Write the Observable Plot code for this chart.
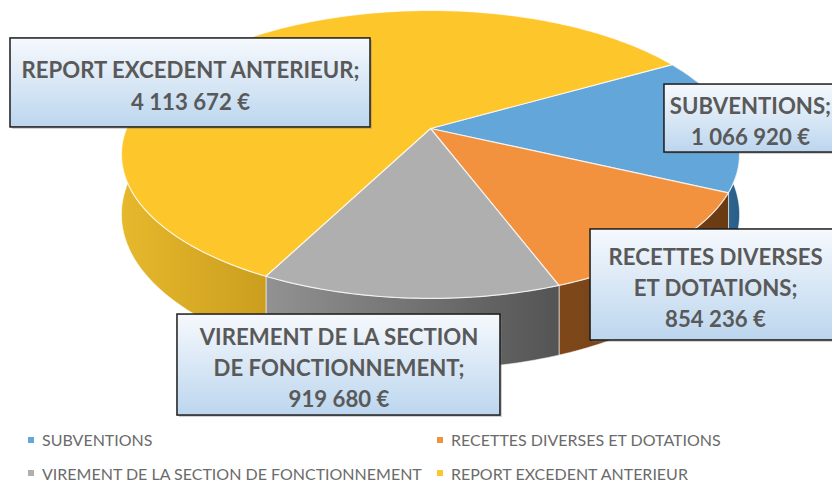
<!DOCTYPE html>
<html><head><meta charset="utf-8">
<script src="https://cdn.jsdelivr.net/npm/d3@7"></script>
<script src="https://cdn.jsdelivr.net/npm/@observablehq/plot@0.6"></script>
<style>
html,body{margin:0;padding:0;background:#fff;}
#chart{position:relative;width:832px;height:482px;overflow:hidden;font-family:Lato,sans-serif;}
#chart svg{display:block;}
.legend{position:absolute;left:0;top:422px;width:832px;height:60px;}
.item{position:absolute;display:flex;align-items:center;height:20px;font-size:16px;color:#6b6b6b;white-space:nowrap;font-family:Lato,sans-serif;}
.sw{width:6px;height:6px;margin-right:8px;flex:none;}
</style></head><body><div id="chart"></div>
<script>
// ---- data ----
const categories = ["SUBVENTIONS", "RECETTES DIVERSES ET DOTATIONS", "VIREMENT DE LA SECTION DE FONCTIONNEMENT", "REPORT EXCEDENT ANTERIEUR"];
const values = [1066920, 854236, 919680, 4113672];
const labelLines = [["SUBVENTIONS;"], ["RECETTES DIVERSES", "ET DOTATIONS;"], ["VIREMENT DE LA SECTION", "DE FONCTIONNEMENT;"], ["REPORT EXCEDENT ANTERIEUR;"]];

// ---- style / layout ----
const topColors = ["#63a6d9", "#f2923f", "#afafaf", "#fdc62b"];
const sideColors = [["#3c7aab", "#285d86"], ["#7e481a", "#6a3a13"], ["#929292", "#545454"], ["#e6b82c", "#cb9e1f"]];
const labelLayout = [
  {dx: 18.5, dy: -4.2, w: 172, h: 68},
  {dx: 47.6, dy: 38.4, w: 250, h: 111},
  {dx: -70.5, dy: 67, w: 323, h: 101},
  {dx: -43.9, dy: 39.8, w: 360, h: 89}
];
const W = 832, SVGH = 422;
const CX = 430, CY = 128, RX = 304, RY = 139.3, B = 0.18, DEPTH = 58;
const START = -30; // first slice angle, degrees clockwise from 3 o'clock

function proj(deg, drop) {
  const p = deg * Math.PI / 180, u = Math.cos(p), v = Math.sin(p), g = 1 / (1 - B * v);
  return {x: CX + RX * u * g, y: CY + RY * v * g + drop * g};
}
function arc(a0, a1, drop) {
  const n = Math.max(2, Math.ceil(Math.abs(a1 - a0)));
  return d3.range(n + 1).map(k => proj(a0 + (a1 - a0) * k / n, drop));
}

const total = d3.sum(values);
let acc = START;
const slices = values.map((v, i) => {
  const a0 = acc, a1 = acc + v / total * 360; acc = a1;
  return {i, a0, a1, mid: (a0 + a1) / 2};
});

const fmt = v => d3.format(",d")(v).replace(/,/g, "\u00a0") + "\u00a0€";

const sideMarks = [], topMarks = [];
slices.forEach(s => {
  const b0 = Math.max(s.a0, -20), b1 = Math.min(s.a1, 200);
  if (b0 < b1) {
    const pts = [...arc(b0, b1, 0), ...arc(b1, b0, DEPTH)];
    sideMarks.push(Plot.line(pts, {x: "x", y: "y", curve: "linear-closed", fill: `url(#side${s.i})`, stroke: "#ffffff", strokeWidth: 1, strokeOpacity: 0.55}));
  }
  const top = [{x: CX, y: CY}, ...arc(s.a0, s.a1, 0)];
  topMarks.push(Plot.line(top, {x: "x", y: "y", curve: "linear-closed", fill: topColors[s.i], stroke: "#ffffff", strokeWidth: 1.2, strokeOpacity: 0.75}));
});

const boxes = slices.map(s => {
  const r = proj(s.mid, 0), L = labelLayout[s.i];
  const cx = r.x + L.dx, cy = r.y + L.dy;
  return {cx, cy, x1: cx - L.w / 2, x2: cx + L.w / 2, y1: cy - L.h / 2, y2: cy + L.h / 2,
    label: [...labelLines[s.i], fmt(values[s.i])].join("\n")};
});

const svg = Plot.plot({
  width: W, height: SVGH,
  margin: 0,
  x: {domain: [0, W], range: [0, W], axis: null},
  y: {domain: [0, SVGH], range: [0, SVGH], axis: null},
  style: {fontFamily: "Lato, sans-serif", background: "#fff"},
  marks: [
    ...sideMarks,
    ...topMarks,
    Plot.rect(boxes, {x1: d => d.x1 + 2, x2: d => d.x2 + 2, y1: d => d.y1 + 2, y2: d => d.y2 + 2, fill: "#7a7a7a", fillOpacity: 0.35}),
    Plot.rect(boxes, {x1: "x1", x2: "x2", y1: "y1", y2: "y2", fill: "url(#boxGrad)", stroke: "#1b1b1b", strokeWidth: 1.5}),
    Plot.text(boxes, {x: "cx", y: d => d.cy + 1, text: "label", fontSize: 22.2, fontWeight: "bold", fill: "#595959", lineHeight: 1.41})
  ]
});

// gradients
const NS = "http://www.w3.org/2000/svg";
const defs = document.createElementNS(NS, "defs");
function grad(id, x2, y2, stops) {
  const g = document.createElementNS(NS, "linearGradient");
  g.setAttribute("id", id); g.setAttribute("x1", "0"); g.setAttribute("y1", "0");
  g.setAttribute("x2", x2); g.setAttribute("y2", y2);
  stops.forEach(([o, c]) => {
    const st = document.createElementNS(NS, "stop");
    st.setAttribute("offset", o); st.setAttribute("stop-color", c); g.appendChild(st);
  });
  defs.appendChild(g);
}
sideColors.forEach((c, i) => grad(`side${i}`, "1", "0", [[0, c[0]], [1, c[1]]]));
grad("boxGrad", "0", "1", [[0, "#f6f9fd"], [1, "#bcd6ee"]]);
svg.insertBefore(defs, svg.firstChild);

const chart = document.getElementById("chart");
chart.appendChild(svg);

// legend (HTML, below the SVG)
const legend = document.createElement("div");
legend.className = "legend";
const colX = [28, 437], rowTop = [7.5, 41];
categories.forEach((c, i) => {
  const it = document.createElement("div");
  it.className = "item";
  it.style.left = colX[i % 2] + "px";
  it.style.top = rowTop[Math.floor(i / 2)] + "px";
  const sw = document.createElement("span");
  sw.className = "sw"; sw.style.background = topColors[i];
  const tx = document.createElement("span"); tx.textContent = c;
  it.appendChild(sw); it.appendChild(tx);
  legend.appendChild(it);
});
chart.appendChild(legend);
</script></body></html>
